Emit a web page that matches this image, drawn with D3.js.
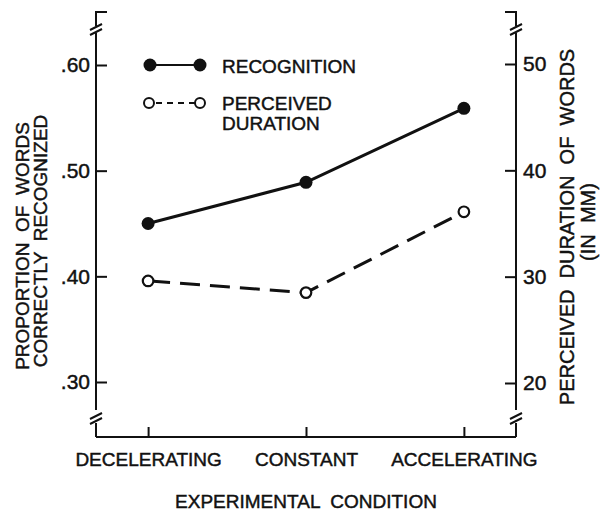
<!DOCTYPE html>
<html>
<head>
<meta charset="utf-8">
<script src="https://cdn.jsdelivr.net/npm/d3@7"></script>
<style>
  body { margin: 0; background: #fff; }
  svg { display: block; }
  text { font-family: "Liberation Sans", Arial, sans-serif; fill: #111; white-space: pre; stroke: #111; stroke-width: 0.45px; }
</style>
</head>
<body>
<svg id="chart" width="600" height="513"></svg>
<script>
// ---- data ----
const categories = ["DECELERATING", "CONSTANT", "ACCELERATING"];
const recognition = [0.45, 0.489, 0.559];          // left axis, proportion
const perceivedDuration = [29.6, 28.5, 36.1];     // right axis, mm
const leftTicks = [0.30, 0.40, 0.50, 0.60];
const rightTicks = [20, 30, 40, 50];
const seriesNames = ["RECOGNITION", "PERCEIVED", "DURATION"];

// ---- layout ----
const svg = d3.select("#chart");
const xL = 96, xR = 516, yTop = 12, yBot = 437;
const ink = "#111";

const x = d3.scalePoint().domain(categories).range([xL, xR]).padding(0.33);
const yL = d3.scaleLinear().domain([0.30, 0.60]).range([382, 65]);
const yR = d3.scaleLinear().domain([20, 50]).range([383, 64]);

// axis lines with breaks
const g = svg.append("g").attr("stroke", ink).attr("stroke-width", 2).attr("fill", "none");
function vAxis(xp, dir) {
  g.append("path").attr("d", `M${xp + dir * 11},${yTop} H${xp} V26`);
  g.append("path").attr("d", `M${xp},33 V410`);
  g.append("path").attr("d", `M${xp},423 V${yBot}`);
  // break marks
  g.append("path").attr("d", `M${xp - 6},${30} L${xp + 6},${24}`);
  g.append("path").attr("d", `M${xp - 6},${35} L${xp + 6},${29}`);
  g.append("path").attr("d", `M${xp - 6},${419} L${xp + 6},${413}`);
  g.append("path").attr("d", `M${xp - 6},${424} L${xp + 6},${418}`);
}
vAxis(xL, 1);
vAxis(xR, -1);
g.append("path").attr("d", `M${xL},${yBot} H${xR}`);

// axes ticks
const fmtL = d => d3.format(".2f")(d).replace(/^0/, "");
const axL = svg.append("g").attr("transform", `translate(${xL},0)`)
  .call(d3.axisLeft(yL).tickValues(leftTicks).tickFormat(fmtL).tickSizeInner(-11).tickSizeOuter(0).tickPadding(6));
const axR = svg.append("g").attr("transform", `translate(${xR},0)`)
  .call(d3.axisRight(yR).tickValues(rightTicks).tickFormat(d3.format("d")).tickSizeInner(-11).tickSizeOuter(0).tickPadding(7));
const axB = svg.append("g").attr("transform", `translate(0,${yBot})`)
  .call(d3.axisBottom(x).tickSizeInner(-10).tickSizeOuter(0).tickPadding(16));
[axL, axR, axB].forEach(a => {
  a.select(".domain").remove();
  a.selectAll(".tick line").attr("stroke", ink).attr("stroke-width", 2);
  a.selectAll(".tick text").attr("fill", ink).attr("font-family", "Liberation Sans, Arial, sans-serif");
});
axL.selectAll(".tick text").attr("font-size", 21);
axR.selectAll(".tick text").attr("font-size", 21);
axB.selectAll(".tick text").attr("font-size", 19).attr("dy", "0.71em").attr("y", 16);

// axis titles
svg.append("text").attr("transform", "translate(22,246) rotate(-90)")
  .attr("text-anchor", "middle").attr("dominant-baseline", "central")
  .attr("font-size", 19).text("PROPORTION  OF  WORDS");
svg.append("text").attr("transform", "translate(40,241) rotate(-90)")
  .attr("text-anchor", "middle").attr("dominant-baseline", "central")
  .attr("font-size", 19).text("CORRECTLY  RECOGNIZED");
svg.append("text").attr("transform", "translate(567,227) rotate(-90)")
  .attr("text-anchor", "middle").attr("dominant-baseline", "central")
  .attr("font-size", 20).text("PERCEIVED  DURATION  OF  WORDS");
svg.append("text").attr("transform", "translate(588,222) rotate(-90)")
  .attr("text-anchor", "middle").attr("dominant-baseline", "central")
  .attr("font-size", 20).text("(IN  MM)");
svg.append("text").attr("x", 306).attr("y", 508).attr("text-anchor", "middle")
  .attr("font-size", 19).text("EXPERIMENTAL  CONDITION");

// data lines
const recPts = categories.map((c, i) => [x(c), yL(recognition[i])]);
const perPts = categories.map((c, i) => [x(c), yR(perceivedDuration[i])]);
const line = d3.line();
svg.append("path").attr("d", line(recPts)).attr("fill", "none")
  .attr("stroke", ink).attr("stroke-width", 3);
svg.append("path").attr("d", line(perPts)).attr("fill", "none")
  .attr("stroke", ink).attr("stroke-width", 3)
  .attr("stroke-dasharray", "20,10").attr("stroke-dashoffset", -2);
svg.selectAll(".rec").data(recPts).join("circle")
  .attr("cx", d => d[0]).attr("cy", d => d[1]).attr("r", 6.5).attr("fill", ink);
svg.selectAll(".per").data(perPts).join("circle")
  .attr("cx", d => d[0]).attr("cy", d => d[1]).attr("r", 5.3)
  .attr("fill", "#fff").attr("stroke", ink).attr("stroke-width", 2.2);

// legend
const lg = svg.append("g");
lg.append("line").attr("x1", 150).attr("x2", 200).attr("y1", 65).attr("y2", 65)
  .attr("stroke", ink).attr("stroke-width", 2);
[150, 200].forEach(cx => lg.append("circle").attr("cx", cx).attr("cy", 65).attr("r", 6.5).attr("fill", ink));
lg.append("line").attr("x1", 154).attr("x2", 196).attr("y1", 103).attr("y2", 103)
  .attr("stroke", ink).attr("stroke-width", 2).attr("stroke-dasharray", "6,5").attr("stroke-dashoffset", -2);
[149, 200].forEach(cx => lg.append("circle").attr("cx", cx).attr("cy", 103).attr("r", 5)
  .attr("fill", "#fff").attr("stroke", ink).attr("stroke-width", 2));
lg.append("text").attr("x", 222).attr("y", 73).attr("font-size", 19).text(seriesNames[0]);
lg.append("text").attr("x", 222).attr("y", 110).attr("font-size", 19).text(seriesNames[1]);
lg.append("text").attr("x", 222).attr("y", 130).attr("font-size", 19).text(seriesNames[2]);
</script>
</body>
</html>
